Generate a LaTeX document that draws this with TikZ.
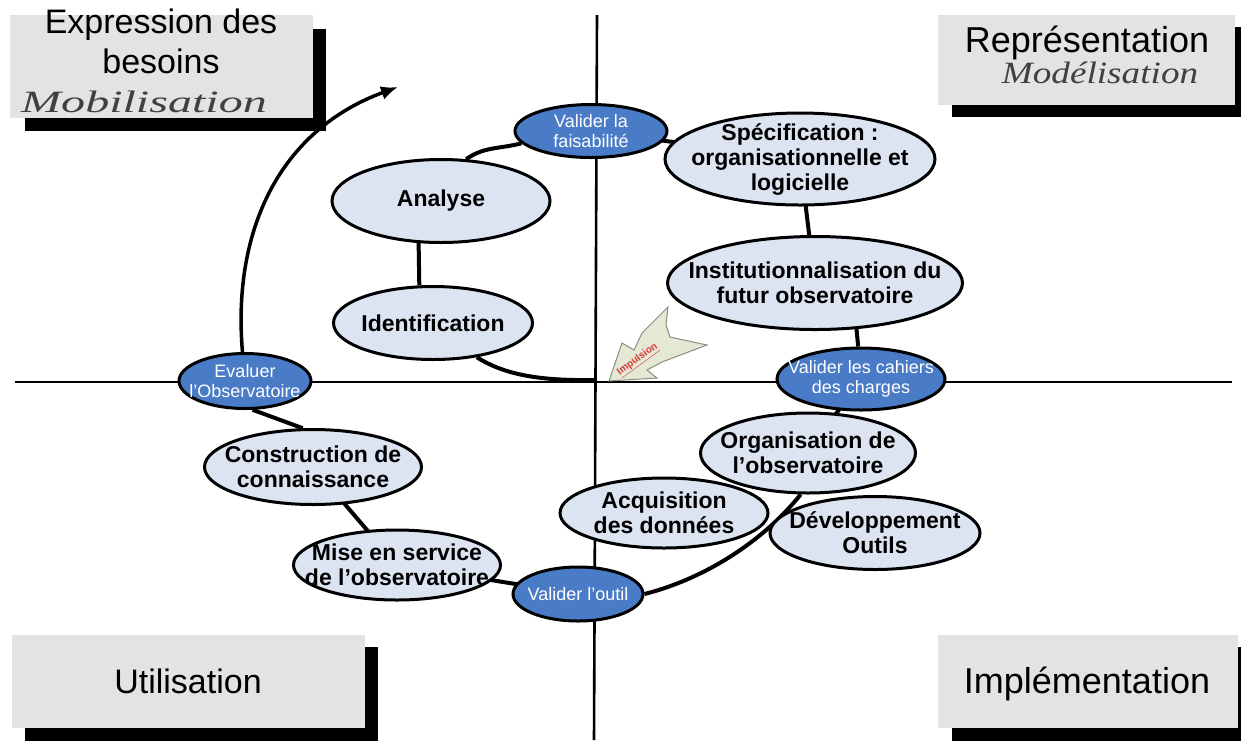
\documentclass[tikz,border=0pt]{standalone}
\usepackage{fontspec}
\setmainfont{Liberation Sans}
\newfontfamily\phaseserif{Liberation Serif}
\usetikzlibrary{shapes.geometric,arrows.meta,backgrounds}

\definecolor{stepfill}{HTML}{DCE4F2}
\definecolor{gatefill}{HTML}{4A7BC6}
\definecolor{phasegray}{HTML}{E3E3E3}
\definecolor{impfill}{HTML}{E4E8D4}
\definecolor{impline}{HTML}{8A8C80}
\definecolor{impred}{HTML}{D83A3A}

\tikzset{
  stage/.style={ellipse, draw=black, line width=3pt, fill=stepfill, inner sep=0pt},
  gate/.style={ellipse, draw=black, line width=3pt, fill=gatefill, inner sep=0pt},
  stagetext/.style={align=center, inner sep=0pt, text=black,
    font=\fontsize{23}{25}\selectfont\bfseries},
  gatetext/.style={align=center, inner sep=0pt, text=white,
    font=\fontsize{18}{20}\selectfont},
  phasebox/.style={fill=phasegray, inner sep=0pt, anchor=north west},
  phaseshadow/.style={fill=black, inner sep=0pt, anchor=north west},
  phasetext/.style={anchor=base, inner sep=0pt, font=\fontsize{34}{38}\selectfont},
  phasesub/.style={anchor=base, inner sep=0pt, text=black!75,
    font=\fontsize{31}{34}\selectfont\phaseserif\itshape},
  axis/.style={line width=2.6pt},
  cycle/.style={line width=4pt},
}

\begin{document}
\begin{tikzpicture}[x=1pt,y=-1pt]
\useasboundingbox (0,0) rectangle (1241,740);

% phase boxes with drop shadows
\node[phaseshadow, minimum width=301pt, minimum height=102pt] (tl-sh) at (25,29) {};
\node[phasebox, minimum width=303pt, minimum height=103pt] (tl) at (10,15) {};
\node[phasetext] (tl-a) at (161,33) {Expression des};
\node[phasetext] (tl-b) at (161,73) {besoins};
\node[phasesub] (tl-c) at (144,112) {\scalebox{1.55}[1]{Mobilisation}};

\node[phaseshadow, minimum width=300pt, minimum height=90pt] (tr-sh) at (952,27) {};
\node[phasebox, minimum width=297pt, minimum height=90pt] (tr) at (938,15) {};
\node[phasetext, font=\fontsize{36}{38}\selectfont] (tr-a) at (1087,52) {Représentation};
\node[phasesub] (tr-b) at (1100,83) {\scalebox{1.2}[1]{Modélisation}};

\node[phaseshadow, minimum width=353pt, minimum height=100pt] (bl-sh) at (25,647) {};
\node[phasebox, minimum width=353pt, minimum height=93pt] (bl) at (12,635) {};
\node[phasetext] (bl-a) at (188,693) {Utilisation};

\node[phaseshadow, minimum width=300pt, minimum height=100pt] (br-sh) at (952,647) {};
\node[phasebox, minimum width=300pt, minimum height=93pt] (br) at (938,635) {};
\node[phasetext, font=\fontsize{36}{38}\selectfont] (br-a) at (1087,693) {Implémentation};

% axes
\coordinate (ytop) at (597,15);
\coordinate (ybot) at (594,740);
\coordinate (xleft) at (15,382);
\coordinate (xright) at (1232,382);
\coordinate (O) at (597,380);
\coordinate (arrowend) at (398,87);

% steps of the cycle
\node[stage, minimum width=218pt, minimum height=83pt] (analyse) at (441,201) {};
\node[stagetext] (analyse-t) at (analyse) {Analyse};

\node[stage, minimum width=199pt, minimum height=73pt] (ident) at (433,323) {};
\node[stagetext] (ident-t) at (ident) {Identification};

\node[gate, minimum width=152pt, minimum height=53pt] (faisab) at (591,131) {};
\node[gatetext] (faisab-t) at (faisab) {Valider la\\faisabilité};

\node[stage, minimum width=270pt, minimum height=92pt] (spec) at (800,159) {};
\node[stagetext] (spec-t) at (spec) {Spécification :\\organisationnelle et\\logicielle};

\node[stage, minimum width=295pt, minimum height=93pt] (instit) at (815,283) {};
\node[stagetext] (instit-t) at (instit) {Institutionnalisation du\\futur observatoire};

\node[gate, minimum width=168pt, minimum height=62pt] (cahiers) at (861,379) {};
\node[gatetext] (cahiers-t) at (cahiers) {Valider les cahiers\\des charges};

\node[stage, minimum width=215pt, minimum height=80pt] (orga) at (808,453) {};
\node[stagetext] (orga-t) at (orga) {Organisation de\\l’observatoire};

\node[stage, minimum width=208pt, minimum height=70pt] (acqui) at (664,513) {};
\node[stagetext] (acqui-t) at (acqui) {Acquisition\\des données};

\node[stage, minimum width=210pt, minimum height=73pt] (devel) at (875,533) {};
\node[stagetext] (devel-t) at (devel) {Développement\\Outils};

\node[gate, minimum width=130pt, minimum height=54pt] (outil) at (578,594) {};
\node[gatetext] (outil-t) at (outil) {Valider l’outil};

\node[stage, minimum width=207pt, minimum height=70pt] (service) at (397,565) {};
\node[stagetext] (service-t) at (service) {Mise en service\\de l’observatoire};

\node[stage, minimum width=217pt, minimum height=75pt] (constr) at (313,467) {};
\node[stagetext] (constr-t) at (constr) {Construction de\\connaissance};

\node[gate, minimum width=132pt, minimum height=55pt] (eval) at (245,381) {};
\node[gatetext] (eval-t) at (eval) {Evaluer\\l’Observatoire};

% connectors behind the ellipses
\begin{pgfonlayer}{background}
  \draw[axis] (ytop) -- (ybot);
  \draw[axis] (xleft) -- (xright);
  \draw[cycle] (O) .. controls (540,381) and (505,375) .. (ident.-38);
  \draw[cycle] (ident.110) -- (analyse.242);
  \draw[cycle] (analyse.59) to[out=35,in=195] (faisab.190);
  \draw[cycle] (faisab.center) -- (spec.center);
  \draw[cycle] (spec.center) -- (instit.center);
  \draw[cycle] (instit.-48) -- (cahiers.95);
  \draw[cycle] (cahiers.center) -- (orga.center);
  \draw[cycle] (orga.-100) .. controls (760,545) and (700,580) .. (outil.east);
  \draw[cycle] (outil.center) -- (service.center);
  \draw[cycle] (service.center) -- (constr.center);
  \draw[cycle] (constr.105) -- (eval.-75);
\end{pgfonlayer}

% outgoing arrow towards a new cycle
\draw[cycle, line width=3.5pt, -{Latex[length=17pt,width=14pt]}]
  (eval.95) .. controls (232,230) and (280,130) .. (arrowend);

% impulse arrow at the origin
\draw[impline, fill=impfill, line width=1pt, line join=miter] (609,381) -- (622,343) -- (634,350) -- (642,333)
  -- (668,307) -- (666,325) -- (670,337) -- (707,345) -- (662,362)
  -- (647,370) -- (657,378) -- cycle;
\node[text=impred, rotate=36, inner sep=0pt,
  font=\fontsize{10}{10}\selectfont\bfseries] (impulse) at (638,360) {\underline{Impulsion}};
\end{tikzpicture}
\end{document}
